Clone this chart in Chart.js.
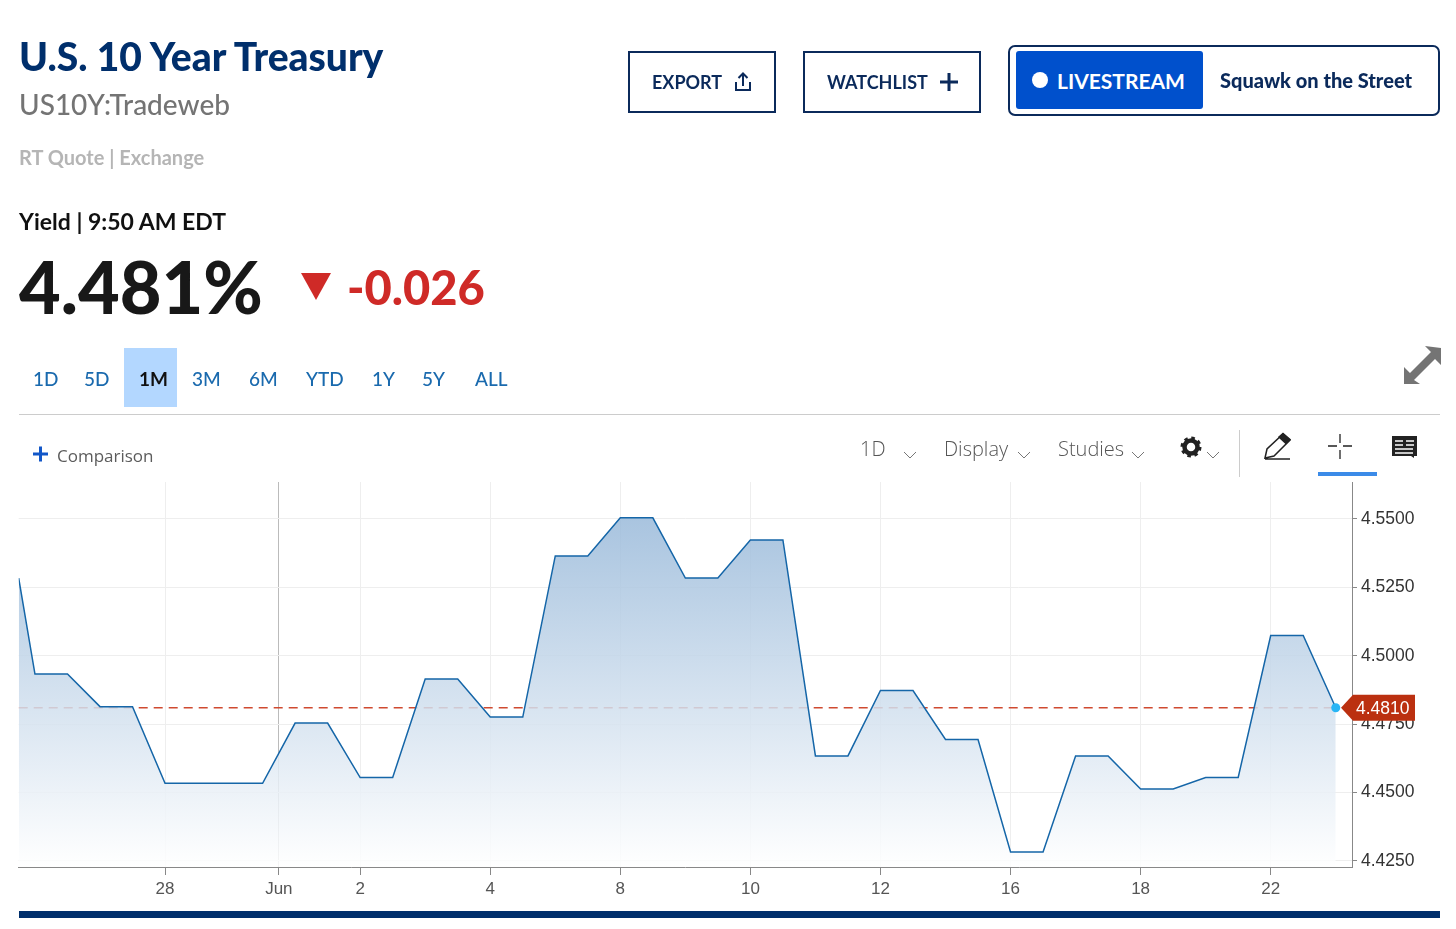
<!DOCTYPE html>
<html>
<head>
<meta charset="utf-8">
<title>U.S. 10 Year Treasury</title>
<script src="https://cdn.jsdelivr.net/npm/chart.js@4"></script>
<style>
html, body { margin: 0; padding: 0; background: #fff; width: 1456px; height: 929px; overflow: hidden; }
body { position: relative; font-family: Lato, "Open Sans", sans-serif; }
.t { position: absolute; white-space: nowrap; line-height: 1; }
.box { position: absolute; box-sizing: border-box; }
svg { position: absolute; overflow: visible; }
canvas { position: absolute; left: 0; top: 0; }
.range { color: #1a6aae; font-size: 19px; font-weight: 500; top: 369px; }
.tool { color: #555; font-size: 20px; top: 439px; font-family: "Open Sans", sans-serif; font-weight: 300; }
</style>
</head>
<body>
<canvas id="chart" width="1456" height="929"></canvas>

<div class="t" style="left:19px;top:37px;font-size:39px;font-weight:900;color:#002f6c">U.S. 10 Year Treasury</div>
<div class="t" style="left:19px;top:90px;font-size:28px;font-weight:500;color:#747474">US10Y:Tradeweb</div>
<div class="t" style="left:19px;top:147px;font-size:20px;font-weight:700;color:#b5b5b5">RT Quote | Exchange</div>
<div class="t" style="left:19px;top:210px;font-size:23px;font-weight:700;color:#111">Yield | 9:50 AM EDT</div>
<div class="t" style="left:19px;top:250px;font-size:72px;font-weight:900;color:#181818">4.481%</div>
<svg style="left:0;top:0" width="10" height="10"><polygon points="301,273 331,273 316,300" fill="#cf2a27"/></svg>
<div class="t" style="left:347px;top:264px;font-size:47px;font-weight:900;color:#cf2a27">-0.026</div>

<div class="box" style="left:628px;top:51px;width:148px;height:62px;border:2px solid #0b2a5b"></div>
<div class="t" style="left:652px;top:73px;font-size:18px;font-weight:700;color:#0b2a5b">EXPORT</div>
<svg style="left:0;top:0" width="10" height="10" fill="none" stroke="#0b2a5b" stroke-width="2"><path d="M736 82v8h14v-8M743 86V74M738.500 78l4.500-4.500 4.500 4.500"/></svg>
<div class="box" style="left:803px;top:51px;width:178px;height:62px;border:2px solid #0b2a5b"></div>
<div class="t" style="left:827px;top:73px;font-size:18px;font-weight:700;color:#0b2a5b">WATCHLIST</div>
<svg style="left:0;top:0" width="10" height="10" fill="none" stroke="#0b2a5b" stroke-width="3"><path d="M940 82h18M949 73v18"/></svg>
<div class="box" style="left:1008px;top:45px;width:432px;height:71px;border:2px solid #0b2a5b;border-radius:7px"></div>
<div class="box" style="left:1016px;top:51px;width:187px;height:58px;background:#0050cc;border-radius:3px"></div>
<svg style="left:0;top:0" width="10" height="10"><circle cx="1040" cy="80" r="8" fill="#fff"/></svg>
<div class="t" style="left:1057px;top:70px;font-size:21px;font-weight:700;color:#fff">LIVESTREAM</div>
<div class="t" style="left:1220px;top:70px;font-size:20px;font-weight:900;color:#0b2a5b">Squawk on the Street</div>

<div class="box" style="left:124px;top:348px;width:53px;height:59px;background:#b3d7ff"></div>
<div class="t range" style="left:33px">1D</div>
<div class="t range" style="left:84px">5D</div>
<div class="t range" style="left:139px;color:#111;font-weight:700">1M</div>
<div class="t range" style="left:192px">3M</div>
<div class="t range" style="left:249px">6M</div>
<div class="t range" style="left:306px">YTD</div>
<div class="t range" style="left:372px">1Y</div>
<div class="t range" style="left:422px">5Y</div>
<div class="t range" style="left:475px">ALL</div>
<svg style="left:0;top:0" width="10" height="10" fill="#747474"><path d="M1441 348v17l-6-6-21 21 6 4h-16v-17l6 6 21-21-6-6z"/></svg>
<div class="box" style="left:19px;top:414px;width:1421px;height:1px;background:#ccc"></div>

<svg style="left:0;top:0" width="10" height="10" fill="none" stroke="#1257c8" stroke-width="3"><path d="M33 454h15M40.500 446.500v15"/></svg>
<div class="t" style="left:57px;top:447px;font-size:17px;color:#5c5c5c;font-family:'Open Sans',sans-serif">Comparison</div>
<div class="t tool" style="left:860px">1D</div>
<div class="t tool" style="left:944px">Display</div>
<div class="t tool" style="left:1058px">Studies</div>
<svg style="left:0;top:0" width="10" height="10" fill="none" stroke="#777" stroke-width="1"><path d="M904 452l6 6 6-6M1018 452l6 6 6-6M1132 452l6 6 6-6M1207 452l6 6 6-6"/></svg>
<svg style="left:0;top:0" width="10" height="10"><circle cx="1191" cy="447" r="6.500" fill="none" stroke="#222" stroke-width="4.500"/><circle cx="1191" cy="447" r="9" fill="none" stroke="#222" stroke-width="3" stroke-dasharray="3.500 3.570"/></svg>
<div class="box" style="left:1239px;top:430px;width:1px;height:47px;background:#ccc"></div>
<svg style="left:0;top:0" width="10" height="10" fill="none" stroke="#222" stroke-width="1.500"><path d="M1265 458l2-9 16-15 7 6-16 16-9 2zM1265 459h25"/><path d="M1279 437l4-3.500 7 6-4 4z" fill="#222"/></svg>
<svg style="left:0;top:0" width="10" height="10" fill="none" stroke="#222" stroke-width="1.300"><path d="M1340 434v9M1340 450v9M1328 446h9M1343 446h9"/></svg>
<div class="box" style="left:1318px;top:472px;width:59px;height:4px;background:#3b8be8"></div>
<svg style="left:0;top:0" width="10" height="10"><path d="M1392 436h25v20h-3v2l-3-2h-19z" fill="#222"/><path d="M1395 441h8M1395 445h8M1395 449h18M1395 453h18M1406 441h8M1406 445h8" stroke="#fff" stroke-width="1.500"/></svg>

<div class="box" style="left:19px;top:911px;width:1421px;height:7px;background:#002f6c"></div>

<script>
// half-session slots on the x axis
const slots = [0, 1, 3, 5, 7, 9, 11, 13, 15, 17, 19, 21, 23, 25, 27, 29, 31, 33, 35, 37, 39, 41, 43, 45, 47, 49, 51, 53, 55, 57, 59, 61, 63, 65, 67, 69, 71, 73, 75, 77, 79, 81];
const yields = [4.5284, 4.4933, 4.4933, 4.4814, 4.4814, 4.4534, 4.4534, 4.4534, 4.4534, 4.4754, 4.4754, 4.4555, 4.4555, 4.4915, 4.4915, 4.4776, 4.4776, 4.5365, 4.5365, 4.5504, 4.5504, 4.5284, 4.5284, 4.5423, 4.5423, 4.4634, 4.4634, 4.4873, 4.4873, 4.4694, 4.4694, 4.4283, 4.4283, 4.4634, 4.4634, 4.4513, 4.4513, 4.4555, 4.4555, 4.5074, 4.5074, 4.4810];
const tickSlots = [9, 16, 21, 29, 37, 45, 53, 61, 69, 77];
const tickLabels = ['28', 'Jun', '2', '4', '8', '10', '12', '16', '18', '22'];
const yTicks = [4.425, 4.45, 4.475, 4.5, 4.525, 4.55];
const lastValue = 4.481;

const priceTag = {
    id: 'priceTag',
    afterDatasetsDraw(chart) {
        const ctx = chart.ctx;
        const y = chart.scales.y.getPixelForValue(lastValue);
        ctx.save();
        ctx.fillStyle = '#bb3010';
        ctx.beginPath();
        ctx.moveTo(1341, y);
        ctx.lineTo(1353, y - 13);
        ctx.lineTo(1415, y - 13);
        ctx.lineTo(1415, y + 13);
        ctx.lineTo(1353, y + 13);
        ctx.closePath();
        ctx.fill();
        ctx.fillStyle = '#fff';
        ctx.font = '17.500px "Liberation Sans"';
        ctx.textBaseline = 'middle';
        ctx.fillText(lastValue.toFixed(4), 1356, y + 1);
        ctx.restore();
    }
};

new Chart(document.getElementById('chart').getContext('2d'), {
    type: 'line',
    plugins: [priceTag],
    data: {
        datasets: [
            {
                data: slots.map((s, i) => ({ x: s, y: yields[i] })),
                borderColor: '#1566a8',
                borderWidth: 1.5,
                tension: 0,
                fill: 'start',
                order: 1,
                backgroundColor(c) {
                    const chart = c.chart;
                    if (!chart.chartArea) return 'transparent';
                    const top = chart.scales.y.getPixelForValue(Math.max(...yields));
                    const g = chart.ctx.createLinearGradient(0, top, 0, chart.chartArea.bottom);
                    g.addColorStop(0, 'rgba(154,186,218,0.85)');
                    g.addColorStop(1, 'rgba(255,255,255,0.85)');
                    return g;
                },
                pointRadius: c => c.dataIndex === slots.length - 1 ? 4.5 : 0,
                pointBackgroundColor: '#29b5f5',
                pointBorderWidth: 0
            },
            {
                data: [{ x: 0, y: lastValue }, { x: 81, y: lastValue }],
                borderColor: '#cf4a30',
                borderWidth: 1.3,
                borderDash: [9, 6],
                pointRadius: 0,
                fill: false,
                order: 2
            }
        ]
    },
    options: {
        responsive: false,
        animation: false,
        layout: { padding: { left: 18.7, top: 482, right: 0, bottom: 0 } },
        plugins: { legend: { display: false }, tooltip: { enabled: false } },
        scales: {
            x: {
                type: 'linear',
                min: 0,
                max: 82,
                afterBuildTicks(scale) { scale.ticks = tickSlots.map(v => ({ value: v })); },
                afterFit(scale) { scale.height = 62; },
                border: { color: '#888', width: 1 },
                grid: {
                    color: c => c.tick && c.tick.value === 16 ? '#bbb' : '#eee',
                    tickColor: '#888',
                    tickLength: 8
                },
                ticks: {
                    autoSkip: false,
                    maxRotation: 0,
                    padding: 4,
                    color: '#555',
                    font: { family: '"Liberation Sans"', size: 17 },
                    callback: v => tickLabels[tickSlots.indexOf(v)]
                }
            },
            y: {
                position: 'right',
                min: 4.4228,
                max: 4.5635,
                afterBuildTicks(scale) { scale.ticks = yTicks.map(v => ({ value: v })); },
                afterFit(scale) { scale.width = 104; },
                border: { color: '#888', width: 1 },
                grid: { color: '#eee', tickColor: '#888', tickLength: 5 },
                ticks: {
                    padding: 4,
                    color: '#333',
                    font: { family: '"Liberation Sans"', size: 17.5 },
                    callback: v => v.toFixed(4)
                }
            }
        }
    }
});
</script>
</body>
</html>
